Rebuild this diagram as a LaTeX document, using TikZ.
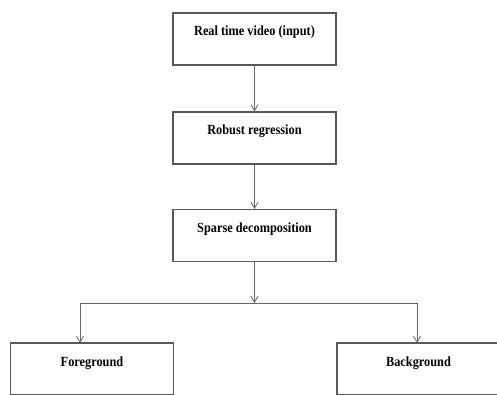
\documentclass[tikz,border=0pt]{standalone}
\usepackage{fontspec}
\setmainfont{Liberation Serif}
\newfontfamily\boxfont[FakeStretch=0.88]{Liberation Serif}
\usetikzlibrary{arrows.meta,calc}
\tikzset{
  box/.style={draw=black!65, line width=1.1pt, rectangle, minimum width=163pt, minimum height=52pt,
    inner sep=0pt, text height=9pt, text depth=15pt, font=\boxfont\fontsize{14}{16}\selectfont\bfseries},
  conn/.style={draw=black!60, line width=1pt, -{Straight Barb[length=6pt,width=7pt,line width=0.8pt]}},
  plain/.style={draw=black!60, line width=1pt}
}
\begin{document}
\begin{tikzpicture}[x=1pt,y=-1pt]
\useasboundingbox (0,0) rectangle (497,395);
\clip (0,0) rectangle (497,395);
\node[box] (rt) at (254.5,39) {Real time video (input)};
\node[box] (rr) at (254.5,138) {Robust regression};
\node[box] (sd) at (254.5,235.5) {Sparse decomposition};
\node[box] (fg) at (92,369) {Foreground};
\node[box] (bg) at (418.5,369) {Background};
\coordinate (j) at (254.5,303);
\coordinate (jl) at (80,303);
\coordinate (fgin) at (80,343);
\coordinate (bgin) at (417,343);
\coordinate (jr) at (417,303);
\draw[conn] (rt.south) -- (rr.north);
\draw[conn] (rr.south) -- (sd.north);
\draw[conn] (sd.south) -- (j);
\draw[plain] (jl) -- (jr);
\draw[conn] (jl) -- (fgin);
\draw[conn] (jr) -- (bgin);
\end{tikzpicture}
\end{document}
